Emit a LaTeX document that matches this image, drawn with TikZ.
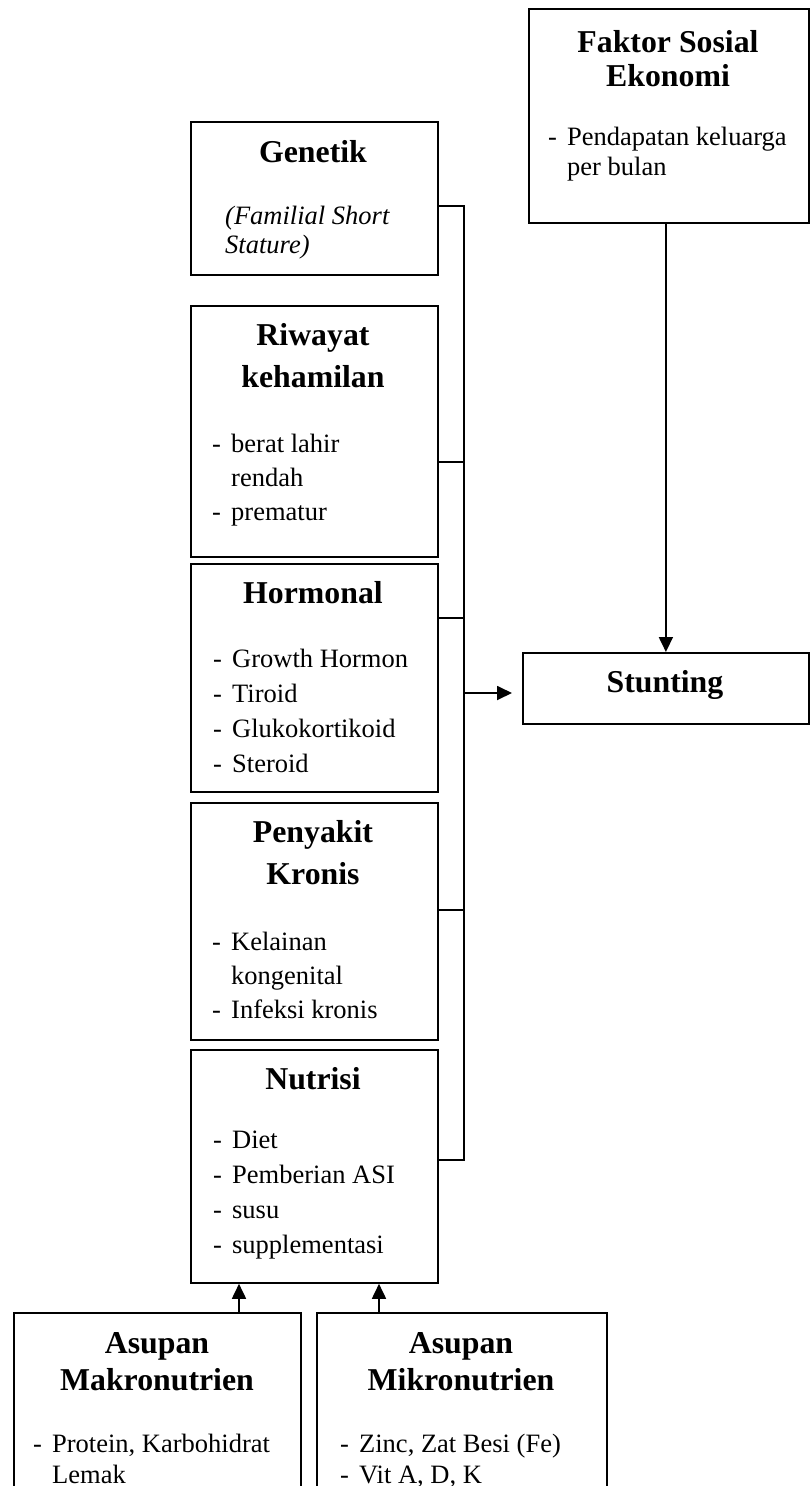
\documentclass[tikz,border=0pt]{standalone}
\usepackage{fontspec}
\setmainfont{Liberation Serif}
\usetikzlibrary{arrows.meta}
\newcommand\ttlx[2]{{\fontsize{31.8}{#1}\selectfont\bfseries\begin{tabular}[t]{@{}c@{}}#2\end{tabular}}}
\newcommand\bodyx[2]{{\fontsize{26.5}{#1}\selectfont\begin{tabular}[t]{@{}p{19pt}@{}l@{}}#2\end{tabular}}}
\begin{document}
\begin{tikzpicture}[x=1pt,y=-1pt,
  box/.style={draw, line width=1.8pt, rectangle, inner sep=0pt, anchor=north west},
  lbl/.style={inner sep=0pt, anchor=base},
  lst/.style={inner sep=0pt, anchor=base west},
  conn/.style={line width=1.8pt},
  arr/.style={line width=1.8pt, -{Triangle[length=15pt,width=14pt]}}]
\fill[white] (0,0) rectangle (810,1486);
\useasboundingbox (0,0) rectangle (810,1486);

% boxes
\node[box, minimum width=280pt, minimum height=214pt] (fak) at (528,8) {};
\node[box, minimum width=247pt, minimum height=153pt] (gen) at (190,121) {};
\node[box, minimum width=247pt, minimum height=251pt] (rw) at (190,305) {};
\node[box, minimum width=247pt, minimum height=228pt] (hor) at (190,563) {};
\node[box, minimum width=247pt, minimum height=237pt] (pen) at (190,802) {};
\node[box, minimum width=247pt, minimum height=233pt] (nut) at (190,1049) {};
\node[box, minimum width=286pt, minimum height=71pt] (stu) at (522,652) {};
\node[box, minimum width=287pt, minimum height=200pt] (mak) at (13,1312) {};
\node[box, minimum width=290pt, minimum height=200pt] (mik) at (316,1312) {};

% titles
\node[lbl] (fakT) at (668,52) {\ttlx{34}{Faktor Sosial\\Ekonomi}};
\node[lbl] (genT) at (313,162) {\ttlx{38}{Genetik}};
\node[lbl] (rwT) at (313,345) {\ttlx{42}{Riwayat\\kehamilan}};
\node[lbl] (horT) at (313,603) {\ttlx{38}{Hormonal}};
\node[lbl] (penT) at (313,842) {\ttlx{42}{Penyakit\\Kronis}};
\node[lbl] (nutT) at (313,1089) {\ttlx{38}{Nutrisi}};
\node[lbl] (stuT) at (665,692) {\ttlx{38}{Stunting}};
\node[lbl] (makT) at (157,1353) {\ttlx{37}{Asupan\\Makronutrien}};
\node[lbl] (mikT) at (461,1353) {\ttlx{37}{Asupan\\Mikronutrien}};

% bodies
\node[lst] (fakB) at (548,145) {\bodyx{30}{- & Pendapatan keluarga\\ & per bulan}};
\node[lst] (genB) at (225,224) {{\fontsize{26.5}{29}\selectfont\itshape\begin{tabular}[t]{@{}l@{}}(Familial Short\\Stature)\end{tabular}}};
\node[lst] (rwB) at (212,452) {\bodyx{34}{- & berat lahir\\ & rendah\\- & prematur}};
\node[lst] (horB) at (213,667) {\bodyx{35}{- & Growth Hormon\\- & Tiroid\\- & Glukokortikoid\\- & Steroid}};
\node[lst] (penB) at (212,950) {\bodyx{34}{- & Kelainan\\ & kongenital\\- & Infeksi kronis}};
\node[lst] (nutB) at (213,1148) {\bodyx{35}{- & Diet\\- & Pemberian ASI\\- & susu\\- & supplementasi}};
\node[lst] (makB) at (33,1452) {\bodyx{31}{- & Protein, Karbohidrat\\ & Lemak}};
\node[lst] (mikB) at (340,1452) {\bodyx{31}{- & Zinc, Zat Besi (Fe)\\- & Vit A, D, K}};

% connectors
\coordinate (j1) at (464,206);
\coordinate (j2) at (464,462);
\coordinate (j3) at (464,618);
\coordinate (j4) at (464,910);
\coordinate (j5) at (464,1160);
\coordinate (jx) at (464,693);
\coordinate (a1) at (239,0);
\coordinate (a2) at (379,0);

\draw[conn] (gen.east |- j1) -- (j1) -- (j5) -- (nut.east |- j5);
\draw[conn] (rw.east |- j2) -- (j2);
\draw[conn] (hor.east |- j3) -- (j3);
\draw[conn] (pen.east |- j4) -- (j4);
\draw[arr, shorten >=10pt] (jx) -- (stu.west |- jx);
\draw[arr] (fak.south -| stu.north) -- (stu.north);
\draw[arr] (mak.north -| a1) -- (nut.south -| a1);
\draw[arr] (mik.north -| a2) -- (nut.south -| a2);
\end{tikzpicture}
\end{document}
